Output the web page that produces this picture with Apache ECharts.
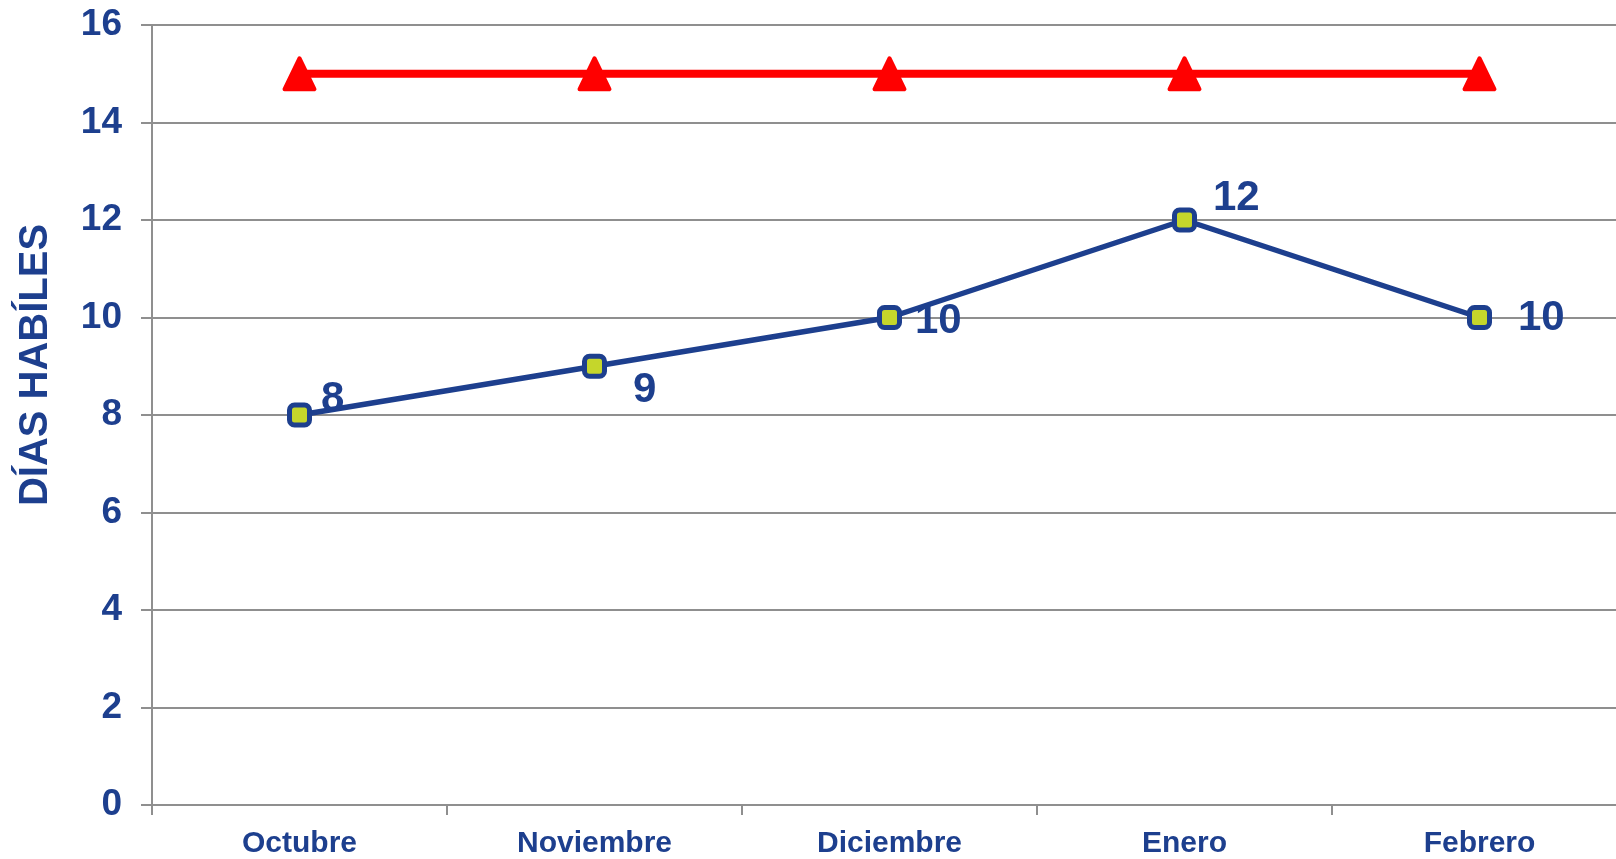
<!DOCTYPE html>
<html>
<head>
<meta charset="utf-8">
<script src="https://cdn.jsdelivr.net/npm/echarts@6/dist/echarts.min.js"></script>
<style>
  html, body { margin: 0; padding: 0; background: #fff; overflow: hidden; }
  /* plot runs a little past the right edge of the window */
  #chart { width: 1627px; height: 859px; }
</style>
</head>
<body>
<div id="chart"></div>
<script>
const months  = ['Octubre', 'Noviembre', 'Diciembre', 'Enero', 'Febrero']
const dias    = [8, 9, 10, 12, 10]
const meta    = [15, 15, 15, 15, 15]
// label nudges per point, [dx, dy]
const labelOffsets = [[-1, -16], [16, 24], [3, 4], [6, -22], [16, 1]]

const BLUE = '#1D3F8E'
const GRID = '#8f8f8f'
const FONT = '"Liberation Sans", Arial, sans-serif'

const chart = echarts.init(document.getElementById('chart'), null, { renderer: 'canvas' })

chart.setOption({
  animation: false,
  grid: { left: 152, right: 0, top: 25, bottom: 54 },
  xAxis: {
    type: 'category',
    data: months,
    boundaryGap: true,
    axisLine: { lineStyle: { color: GRID, width: 2 } },
    axisTick: { show: true, length: 10, lineStyle: { color: GRID, width: 2 } },
    axisLabel: { color: BLUE, fontSize: 30, fontWeight: 'bold', fontFamily: FONT, margin: 24 },
  },
  yAxis: {
    type: 'value',
    min: 0, max: 16, interval: 2,
    name: 'DÍAS HABÍLES',
    nameLocation: 'middle',
    nameGap: 96,
    nameTextStyle: {
      color: BLUE, fontSize: 40, fontWeight: 'bold', fontFamily: FONT,
      padding: [0, 0, 0, 100],
    },
    axisLine: { show: true, lineStyle: { color: GRID, width: 2 } },
    axisTick: { show: true, length: 11, lineStyle: { color: GRID, width: 2 } },
    axisLabel: { color: BLUE, fontSize: 37, fontWeight: 'bold', fontFamily: FONT, margin: 30 },
    splitLine: { lineStyle: { color: GRID, width: 2 } },
  },
  series: [
    {
      type: 'line',
      data: meta,
      symbol: 'triangle',
      symbolSize: [30, 31],
      lineStyle: { color: '#FF0000', width: 8 },
      itemStyle: { color: '#FF0000', borderColor: '#FF0000', borderWidth: 4, borderJoin: 'round' },
      z: 2,
    },
    {
      type: 'line',
      data: dias.map((v, i) => ({
        value: v,
        label: { offset: labelOffsets[i] },
      })),
      symbol: 'roundRect',
      symbolSize: 20,
      lineStyle: { color: BLUE, width: 5.5 },
      itemStyle: { color: '#C5D62B', borderColor: BLUE, borderWidth: 5 },
      label: {
        show: true,
        position: 'right',
        distance: 10,
        color: BLUE, fontSize: 42, fontWeight: 'bold', fontFamily: FONT,
      },
      z: 3,
    },
  ],
})
</script>
</body>
</html>
